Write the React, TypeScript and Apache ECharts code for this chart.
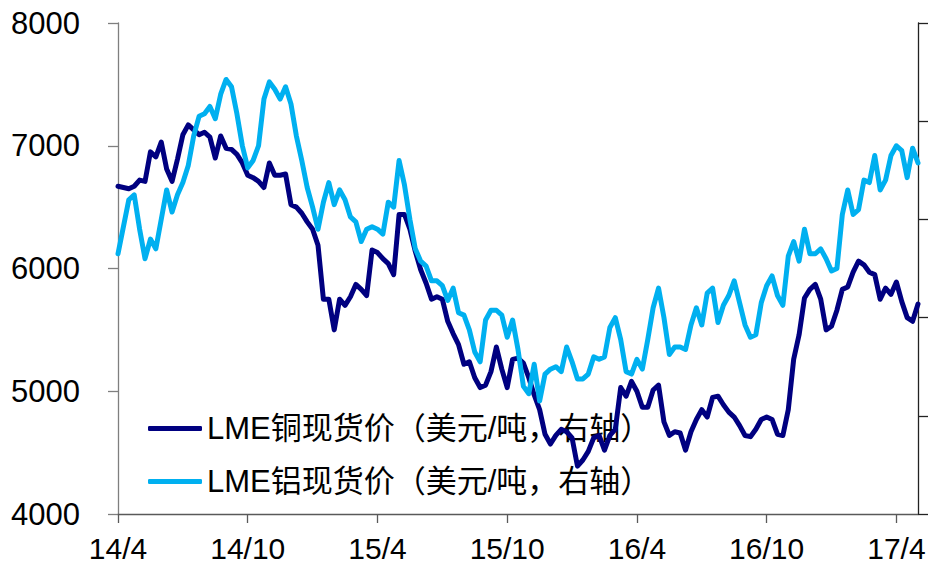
import React, { useEffect, useRef } from "react";
import * as echarts from "echarts";

// Sampling: one value every quarter month starting at 2014-04 (x in months since 14/4)
const STEP_MONTHS = 0.25;

const xTickMonths = [0, 6, 12, 18, 24, 30, 36];
const xTickLabels = ["14/4", "14/10", "15/4", "15/10", "16/4", "16/10", "17/4"];

const seriesNames = ["LME铜现货价（美元/吨，右轴）", "LME铝现货价（美元/吨，右轴）"];

// LME copper spot (USD/t), left axis
const copper = [
  6670, 6660, 6650, 6670, 6720, 6710, 6950, 6910, 7030, 6810,
  6710, 6890, 7090, 7170, 7130, 7090, 7110, 7070, 6900, 7080,
  6980, 6970, 6930, 6860, 6760, 6740, 6710, 6660, 6860, 6760,
  6760, 6770, 6520, 6500, 6450, 6380, 6320, 6190, 5750, 5750,
  5500, 5750, 5700, 5770, 5870, 5830, 5780, 6150, 6130, 6080,
  6040, 5950, 6440, 6440, 6320, 6140, 5990, 5880, 5750, 5770,
  5750, 5570, 5470, 5380, 5220, 5240, 5110, 5030, 5050, 5160,
  5360, 5180, 5030, 5260, 5270, 5230, 5110, 4970, 4850, 4650,
  4570, 4640, 4690, 4670, 4620, 4390, 4440, 4510, 4620, 4640,
  4520, 4640, 4690, 5030, 4960, 5080, 5000, 4870, 4870, 5010,
  5050, 4750, 4640, 4670, 4660, 4520, 4670, 4770, 4850, 4790,
  4950, 4960, 4890, 4830, 4790, 4720, 4640, 4630, 4690, 4770,
  4790, 4770, 4650, 4640, 4850, 5260, 5460, 5760, 5830, 5870,
  5750, 5500, 5530, 5660, 5830, 5850, 5970, 6060, 6030, 5970,
  5950, 5750, 5840, 5790, 5890, 5730, 5600, 5570, 5710,
];

// LME aluminium spot (USD/t), right axis
const aluminium = [
  1730, 1785, 1840, 1850, 1780, 1720, 1760, 1740, 1800, 1860,
  1815, 1850, 1875, 1910, 1970, 2010, 2015, 2030, 2005, 2055,
  2085, 2070, 2015, 1950, 1905, 1920, 1950, 2045, 2080, 2065,
  2045, 2070, 2035, 1970, 1920, 1865, 1825, 1780, 1835, 1875,
  1830, 1860, 1840, 1805, 1795, 1755, 1780, 1785, 1780, 1770,
  1835, 1825, 1920, 1870, 1800, 1740, 1715, 1705, 1675, 1675,
  1665, 1635, 1660, 1610, 1605, 1575, 1530, 1510, 1595, 1615,
  1615, 1605, 1560, 1595, 1535, 1460, 1445, 1505, 1430, 1485,
  1495, 1500, 1490, 1540, 1510, 1475, 1475, 1485, 1520, 1515,
  1520, 1580, 1600, 1555, 1490, 1485, 1515, 1495, 1555, 1620,
  1660, 1600, 1525, 1540, 1540, 1535, 1585, 1620, 1585, 1650,
  1660, 1590, 1625, 1645, 1675, 1630, 1585, 1560, 1565, 1630,
  1665, 1685, 1645, 1625, 1725, 1755, 1715, 1780, 1730, 1730,
  1740, 1720, 1695, 1700, 1810, 1860, 1810, 1820, 1880, 1875,
  1930, 1860, 1880, 1930, 1950, 1940, 1885, 1945, 1915,
];

const FONT = "'Liberation Sans', Arial, 'Noto Sans CJK SC', sans-serif";

export default function App() {
  const ref = useRef<HTMLDivElement>(null);

  useEffect(() => {
    if (!ref.current) return;
    const chart = echarts.init(ref.current, undefined, { renderer: "svg" });
    const toPairs = (arr: number[]) => arr.map((v, i) => [i * STEP_MONTHS, v]);
    chart.setOption({
      animation: false,
      backgroundColor: "#ffffff",
      grid: { left: 118, right: 12, top: 23, bottom: 50, containLabel: false },
      legend: {
        orient: "vertical",
        left: 148,
        top: 413,
        padding: 0,
        z: 1,
        itemWidth: 54,
        itemHeight: 5,
        itemGap: 22,
        icon: "roundRect",
        data: seriesNames,
        textStyle: { fontSize: 31, lineHeight: 30, color: "#000", fontFamily: FONT },
      },
      xAxis: {
        type: "value",
        min: 0,
        max: 37,
        interval: 6,
        splitLine: { show: false },
        axisLine: { show: true, lineStyle: { color: "#595959", width: 1.3 } },
        axisTick: {
          show: true,
          inside: false,
          length: 9,
          customValues: xTickMonths,
          lineStyle: { color: "#595959", width: 1.3 },
        },
        axisLabel: {
          show: true,
          margin: 23,
          fontSize: 30,
          lineHeight: 22,
          color: "#000",
          fontFamily: FONT,
          customValues: xTickMonths,
          formatter: (v: number) => {
            const idx = xTickMonths.indexOf(Math.round(v));
            return idx >= 0 ? xTickLabels[idx] : "";
          },
        },
      },
      yAxis: [
        {
          type: "value",
          position: "left",
          min: 4000,
          max: 8000,
          interval: 1000,
          splitLine: { show: false },
          axisLine: { show: true, lineStyle: { color: "#7f7f7f", width: 1.3 } },
          axisTick: { show: true, inside: false, length: 10, lineStyle: { color: "#7f7f7f", width: 1.3 } },
          axisLabel: {
            show: true,
            margin: 38,
            fontSize: 31,
            color: "#000",
            fontFamily: FONT,
            formatter: (v: number) => String(v),
          },
        },
        {
          type: "value",
          position: "right",
          min: 1200,
          max: 2200,
          interval: 200,
          splitLine: { show: false },
          axisLine: { show: true, lineStyle: { color: "#222", width: 1.3 } },
          axisTick: { show: true, inside: false, length: 10, lineStyle: { color: "#222", width: 1.3 } },
          axisLabel: { show: false },
        },
      ],
      series: [
        {
          name: seriesNames[0],
          type: "line",
          yAxisIndex: 0,
          data: toPairs(copper),
          showSymbol: false,
          symbol: "none",
          z: 3,
          lineStyle: { color: "#000080", width: 5, join: "round", cap: "round" },
          itemStyle: { color: "#000080" },
        },
        {
          name: seriesNames[1],
          type: "line",
          yAxisIndex: 1,
          data: toPairs(aluminium),
          showSymbol: false,
          symbol: "none",
          z: 3,
          lineStyle: { color: "#00b0f0", width: 5, join: "round", cap: "round" },
          itemStyle: { color: "#00b0f0" },
        },
      ],
    });
    return () => chart.dispose();
  }, []);

  return (
    <div
      ref={ref}
      style={{ position: "fixed", left: 0, top: 0, width: 930, height: 564, background: "#fff" }}
    />
  );
}
